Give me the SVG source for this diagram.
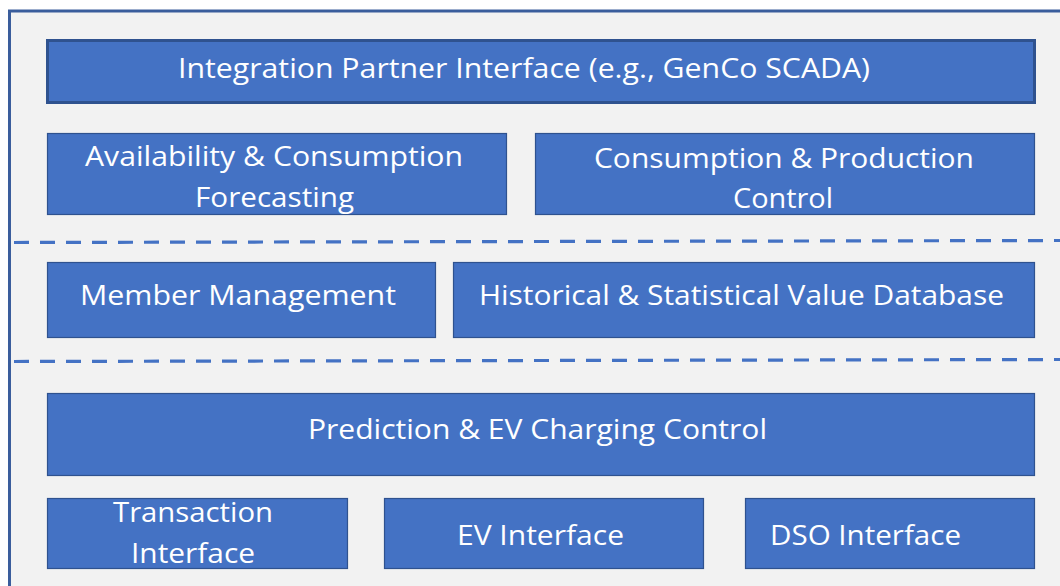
<svg xmlns="http://www.w3.org/2000/svg" width="1060" height="586" viewBox="0 0 1060 586">
<style>
.box{fill:#4472C4;stroke:#2F528F;stroke-width:1.2}
.boxT{fill:#4472C4;stroke:#2F528F;stroke-width:3}
.t{font-family:"Open Sans","Noto Sans","Liberation Sans",sans-serif;font-size:27px;fill:#ffffff;text-anchor:start}
.dash{stroke:#4472C4;stroke-width:3.2;stroke-dasharray:15 11;fill:none}
</style>
<rect x="0" y="0" width="1060" height="586" fill="#ffffff"/>
<rect x="9.5" y="11" width="1080" height="600" fill="#f2f2f2" stroke="#3A5D9C" stroke-width="3"/>
<g id="connectors">
<line class="dash" x1="14" y1="242.5" x2="1060" y2="240.5"/>
<line class="dash" x1="14" y1="361.5" x2="1060" y2="359.5"/>
</g>
<g id="n-integration">
<rect class="boxT" x="47.5" y="40.5" width="987" height="62"/>
<text class="t" x="178" y="78" textLength="692" lengthAdjust="spacingAndGlyphs">Integration Partner Interface (e.g., GenCo SCADA)</text>
</g>
<g id="n-availability">
<rect class="box" x="47.5" y="133.5" width="459" height="81"/>
<text class="t" x="85" y="166" textLength="378" lengthAdjust="spacingAndGlyphs">Availability &amp; Consumption</text>
<text class="t" x="195" y="207" textLength="159" lengthAdjust="spacingAndGlyphs">Forecasting</text>
</g>
<g id="n-control">
<rect class="box" x="535.5" y="133.5" width="499" height="81"/>
<text class="t" x="594" y="168" textLength="380" lengthAdjust="spacingAndGlyphs">Consumption &amp; Production</text>
<text class="t" x="733" y="208" textLength="100" lengthAdjust="spacingAndGlyphs">Control</text>
</g>
<g id="n-member">
<rect class="box" x="47.5" y="262.5" width="388" height="75"/>
<text class="t" x="80" y="305" textLength="316" lengthAdjust="spacingAndGlyphs">Member Management</text>
</g>
<g id="n-historical">
<rect class="box" x="453.5" y="262.5" width="581" height="75"/>
<text class="t" x="479" y="305" textLength="525" lengthAdjust="spacingAndGlyphs">Historical &amp; Statistical Value Database</text>
</g>
<g id="n-prediction">
<rect class="box" x="47.5" y="393.5" width="987" height="82"/>
<text class="t" x="308" y="439" textLength="459" lengthAdjust="spacingAndGlyphs">Prediction &amp; EV Charging Control</text>
</g>
<g id="n-transaction">
<rect class="box" x="47.5" y="498.5" width="300" height="70"/>
<text class="t" x="113" y="522" textLength="160" lengthAdjust="spacingAndGlyphs">Transaction</text>
<text class="t" x="131" y="563" textLength="124" lengthAdjust="spacingAndGlyphs">Interface</text>
</g>
<g id="n-ev">
<rect class="box" x="384.5" y="498.5" width="319" height="70"/>
<text class="t" x="457" y="545" textLength="167" lengthAdjust="spacingAndGlyphs">EV Interface</text>
</g>
<g id="n-dso">
<rect class="box" x="745.5" y="498.5" width="289" height="70"/>
<text class="t" x="770" y="545" textLength="191" lengthAdjust="spacingAndGlyphs">DSO Interface</text>
</g>
</svg>
